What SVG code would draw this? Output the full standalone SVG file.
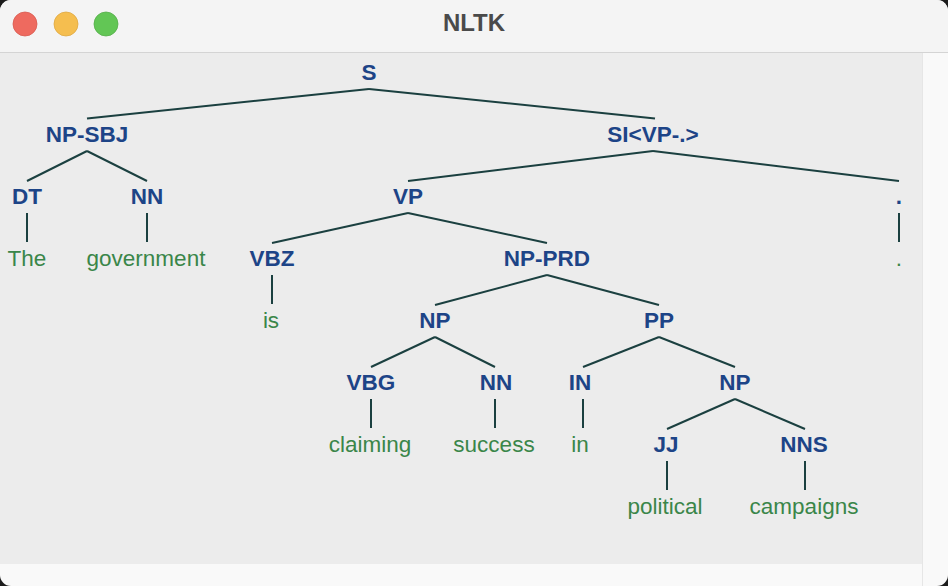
<svg xmlns="http://www.w3.org/2000/svg" width="948" height="586" viewBox="0 0 948 586">
<style>
.lbl{font-family:"Liberation Sans",Arial,Helvetica,sans-serif;font-weight:bold;font-size:22.5px;fill:#1d4487;text-anchor:middle}
.leaf{font-family:"Liberation Sans",Arial,Helvetica,sans-serif;font-size:22.5px;fill:#3a8649;text-anchor:middle}
.title{font-family:"Liberation Sans",Arial,Helvetica,sans-serif;font-weight:bold;font-size:24px;fill:#4a4a4a;text-anchor:middle}
#edges line{stroke:#1b4040;stroke-width:2;fill:none}
</style>
<defs>
<clipPath id="win"><rect x="0" y="0" width="948" height="586" rx="11"/></clipPath>
</defs>
<rect x="0" y="0" width="948" height="586" fill="#1c1c1c"/>
<g clip-path="url(#win)">
<rect x="0" y="0" width="948" height="586" fill="#f9f9f9"/>
<rect x="0" y="0" width="948" height="52" fill="#f4f4f4"/>
<line x1="0" y1="52.5" x2="948" y2="52.5" stroke="#d4d4d4" stroke-width="1"/>
<rect x="0" y="53" width="922" height="511" fill="#ececec"/>
<line x1="922.5" y1="53" x2="922.5" y2="586" stroke="#e6e6e6" stroke-width="1"/>
</g>
<g id="titlebar">
<circle cx="25" cy="24" r="12" fill="#ee6a5f" stroke="#d85a50" stroke-width="0.8"/>
<circle cx="66" cy="24" r="12" fill="#f5be4f" stroke="#dea843" stroke-width="0.8"/>
<circle cx="106" cy="24" r="12" fill="#62c655" stroke="#55ad4a" stroke-width="0.8"/>
<text class="title" x="474" y="31">NLTK</text>
</g>
<g id="edges">
<line x1="369" y1="89" x2="87" y2="118.5"/>
<line x1="369" y1="89" x2="655" y2="118.5"/>
<line x1="87" y1="151" x2="27" y2="181"/>
<line x1="87" y1="151" x2="147" y2="181"/>
<line x1="27" y1="213" x2="27" y2="242"/>
<line x1="147" y1="213" x2="147" y2="242"/>
<line x1="653" y1="151" x2="408" y2="181"/>
<line x1="653" y1="151" x2="899" y2="181"/>
<line x1="899" y1="213" x2="899" y2="242"/>
<line x1="408" y1="213" x2="272" y2="243"/>
<line x1="408" y1="213" x2="547" y2="243"/>
<line x1="272" y1="275" x2="272" y2="304"/>
<line x1="547" y1="275" x2="435" y2="305"/>
<line x1="547" y1="275" x2="659" y2="305"/>
<line x1="435" y1="337" x2="371" y2="367"/>
<line x1="435" y1="337" x2="495" y2="367"/>
<line x1="659" y1="337" x2="583" y2="367"/>
<line x1="659" y1="337" x2="735" y2="367"/>
<line x1="371" y1="399" x2="371" y2="428"/>
<line x1="495" y1="399" x2="495" y2="428"/>
<line x1="583" y1="399" x2="583" y2="428"/>
<line x1="735" y1="399" x2="667" y2="429"/>
<line x1="735" y1="399" x2="805" y2="429"/>
<line x1="667" y1="461" x2="667" y2="490"/>
<line x1="805" y1="461" x2="805" y2="490"/>
</g>
<g id="n-S"><text class="lbl" x="369" y="79.5">S</text></g>
<g id="n-NP-SBJ"><text class="lbl" x="87" y="141.5">NP-SBJ</text></g>
<g id="n-DT"><text class="lbl" x="27" y="203.5">DT</text></g>
<g id="n-NN1"><text class="lbl" x="147" y="203.5">NN</text></g>
<g id="w-The"><text class="leaf" x="27" y="265.5">The</text></g>
<g id="w-government"><text class="leaf" x="146" y="265.5">government</text></g>
<g id="n-SI"><text class="lbl" x="653" y="141.5">SI&lt;VP-.&gt;</text></g>
<g id="n-VP"><text class="lbl" x="408" y="203.5">VP</text></g>
<g id="n-dot"><text class="lbl" x="899" y="203.5">.</text></g>
<g id="w-dot"><text class="leaf" x="899" y="265.5">.</text></g>
<g id="n-VBZ"><text class="lbl" x="272" y="265.5">VBZ</text></g>
<g id="n-NP-PRD"><text class="lbl" x="547" y="265.5">NP-PRD</text></g>
<g id="w-is"><text class="leaf" x="271" y="327.5">is</text></g>
<g id="n-NP1"><text class="lbl" x="435" y="327.5">NP</text></g>
<g id="n-PP"><text class="lbl" x="659" y="327.5">PP</text></g>
<g id="n-VBG"><text class="lbl" x="371" y="389.5">VBG</text></g>
<g id="n-NN2"><text class="lbl" x="496" y="389.5">NN</text></g>
<g id="n-IN"><text class="lbl" x="580" y="389.5">IN</text></g>
<g id="n-NP2"><text class="lbl" x="735" y="389.5">NP</text></g>
<g id="w-claiming"><text class="leaf" x="370" y="451.5">claiming</text></g>
<g id="w-success"><text class="leaf" x="494" y="451.5">success</text></g>
<g id="w-in"><text class="leaf" x="580" y="451.5">in</text></g>
<g id="n-JJ"><text class="lbl" x="666" y="451.5">JJ</text></g>
<g id="n-NNS"><text class="lbl" x="804" y="451.5">NNS</text></g>
<g id="w-political"><text class="leaf" x="665" y="513.5">political</text></g>
<g id="w-campaigns"><text class="leaf" x="804" y="513.5">campaigns</text></g>
</svg>
